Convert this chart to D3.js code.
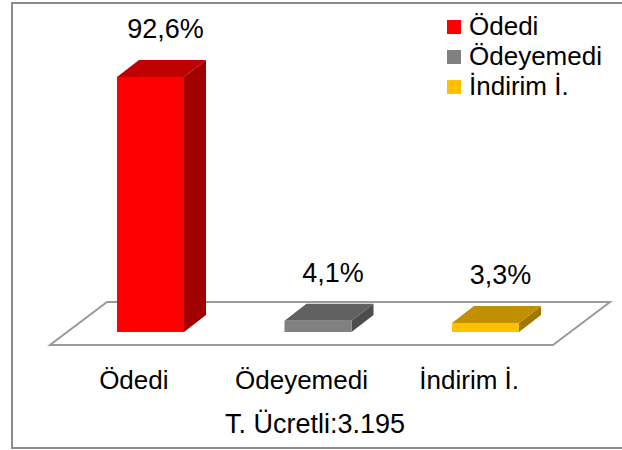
<!DOCTYPE html>
<html><head><meta charset="utf-8">
<script src="https://cdn.jsdelivr.net/npm/d3@7"></script>
<style>
html,body{margin:0;padding:0;background:#fff;}
svg text{font-family:"Liberation Sans",Arial,sans-serif;fill:#000;}
</style></head>
<body><svg id="c" width="622" height="450"></svg>
<script>
const categories = ["Ödedi", "Ödeyemedi", "İndirim İ."];
const values = [92.6, 4.1, 3.3];
const valueLabels = ["92,6%", "4,1%", "3,3%"];
const frontColors = ["#FF0000", "#808080", "#FFC000"];
const topColors = ["#C00000", "#606060", "#C09000"];
const sideColors = ["#A00000", "#4D4D4D", "#A07800"];
const title = "T. Ücretli:3.195";

const svg = d3.select("#c");

// frame
svg.append("rect").attr("x", 12).attr("y", 3).attr("width", 612).attr("height", 445)
  .attr("fill", "#fff").attr("stroke", "#8c8c8c").attr("stroke-width", 2);

// scales
const x = d3.scalePoint().domain(categories).range([66.75, 569.25]).padding(0.5);
const xLab = d3.scalePoint().domain(categories).range([50, 553]).padding(0.5);
const y = d3.scaleLinear().domain([0, 100]).range([332, 56.6]);
const barW = 67, dX = 22, dY = -17;

// floor
const fl = {x0: 50, x1: 553, yF: 345, dx: 57, dy: -43};
svg.append("path")
  .attr("d", `M${fl.x0},${fl.yF}L${fl.x1},${fl.yF}L${fl.x1+fl.dx},${fl.yF+fl.dy}L${fl.x0+fl.dx},${fl.yF+fl.dy}Z`)
  .attr("fill", "#fff").attr("stroke", "#9a9a9a").attr("stroke-width", 2);

const g = svg.append("g");
categories.forEach((c, i) => {
  const cx = x(c), l = cx - barW/2, r = cx + barW/2;
  const t = y(values[i]), b = y(0);
  g.append("path").attr("d", `M${r},${t}L${r+dX},${t+dY}L${r+dX},${b+dY}L${r},${b}Z`).attr("fill", sideColors[i]);
  g.append("path").attr("d", `M${l},${t}L${l+dX},${t+dY}L${r+dX},${t+dY}L${r},${t}Z`).attr("fill", topColors[i]);
  g.append("rect").attr("x", l).attr("y", t).attr("width", barW).attr("height", b - t).attr("fill", frontColors[i]);
  g.append("text").attr("x", cx + dX/2 + 4).attr("y", t + dY - 22).attr("text-anchor", "middle")
    .attr("font-size", 27).text(valueLabels[i]);
  g.append("text").attr("x", xLab(c)).attr("y", 389).attr("text-anchor", "middle")
    .attr("font-size", 26).text(c);
});

svg.append("text").attr("x", 315).attr("y", 433).attr("text-anchor", "middle")
  .attr("font-size", 27).text(title);

// legend
const lg = svg.append("g").attr("transform", "translate(447,35)");
categories.forEach((c, i) => {
  lg.append("rect").attr("x", 0).attr("y", i*30 - 15).attr("width", 14).attr("height", 14).attr("fill", frontColors[i]);
  lg.append("text").attr("x", 22).attr("y", i*30).attr("font-size", 26).text(c);
});
</script></body></html>
